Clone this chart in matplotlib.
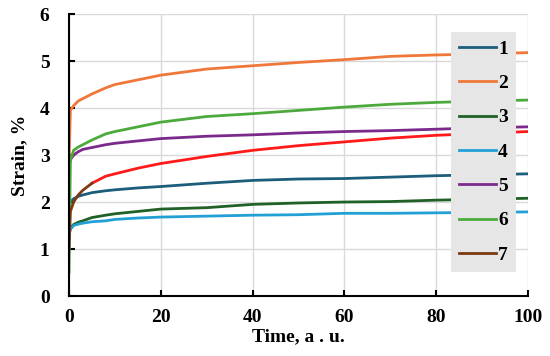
"""
Strain vs time, seven creep curves (recreation of a reference figure).
"""
import matplotlib
matplotlib.use('Agg')
import matplotlib.pyplot as plt

# ── Data ──────────────────────────────────────────────────────────────────────
t = [0, 0.3, 1, 2, 3, 5, 8, 10, 15, 20, 30, 40, 50, 60, 70, 80, 90, 100]

s1 = [1.9, 2.0, 2.07, 2.12, 2.15, 2.2, 2.24, 2.26, 2.3, 2.33, 2.4, 2.46, 2.49, 2.5, 2.53, 2.56, 2.58, 2.6]
s2 = [2.9, 3.95, 4.05, 4.15, 4.2, 4.3, 4.43, 4.5, 4.6, 4.7, 4.83, 4.9, 4.97, 5.03, 5.1, 5.13, 5.15, 5.18]
s3 = [1.3, 1.45, 1.52, 1.57, 1.6, 1.67, 1.72, 1.75, 1.8, 1.85, 1.88, 1.95, 1.98, 2.0, 2.01, 2.04, 2.06, 2.08]
s4 = [1.3, 1.42, 1.5, 1.53, 1.55, 1.58, 1.6, 1.63, 1.66, 1.68, 1.7, 1.72, 1.73, 1.76, 1.76, 1.77, 1.78, 1.79]
s5 = [2.75, 2.9, 3.0, 3.07, 3.12, 3.16, 3.22, 3.25, 3.3, 3.35, 3.4, 3.43, 3.47, 3.5, 3.52, 3.55, 3.58, 3.6]
s6 = [0.5, 2.9, 3.1, 3.17, 3.22, 3.32, 3.45, 3.5, 3.6, 3.7, 3.82, 3.88, 3.95, 4.02, 4.08, 4.12, 4.15, 4.17]
s7 = [1.0, 1.8, 2.0, 2.15, 2.25, 2.4, 2.55, 2.6, 2.72, 2.82, 2.97, 3.1, 3.2, 3.28, 3.36, 3.42, 3.46, 3.5]

series = [s1, s2, s3, s4, s5, s6]
labels = ['1', '2', '3', '4', '5', '6']
colors = ['#1c5d7c', '#f0773a', '#1f6127', '#22a0d6', '#7b2a8c', '#4caa3c']

RED = '#ff1a1a'
BROWN = '#7b3a12'
N_BROWN = 6   # early part of curve 7 drawn brown (t <= 5)

# ── Plot ──────────────────────────────────────────────────────────────────────
plt.rcParams['font.family'] = 'Liberation Serif'
plt.rcParams['font.weight'] = 'bold'

fig = plt.figure(figsize=(5.5, 3.56), dpi=100)
ax = fig.add_axes([0.1255, 0.1685, 0.8345, 0.792])

for y, lab, c in zip(series, labels, colors):
    ax.plot(t, y, color=c, lw=2, label=lab)
ax.plot(t[N_BROWN - 1:], s7[N_BROWN - 1:], color=RED, lw=2)
ax.plot(t[:N_BROWN], s7[:N_BROWN], color=BROWN, lw=2, label='7')

ax.set_xlim(0, 100)
ax.set_ylim(0, 6)
ax.set_xticks(range(0, 101, 20))
ax.set_yticks(range(0, 7))
ax.grid(True, color='#d9d9d9', lw=1)
ax.set_axisbelow(True)
for side in ('top', 'right'):
    ax.spines[side].set_visible(False)
for side in ('left', 'bottom'):
    ax.spines[side].set_linewidth(1.5)
ax.tick_params(direction='in', length=4, width=1.5, labelsize=14)
ax.tick_params(axis='y', pad=14)
ax.tick_params(axis='x', pad=9)

ax.set_xlabel('Time, a . u.', fontsize=14, fontweight='bold', labelpad=2)
ax.set_ylabel('Strain, %', fontsize=14, fontweight='bold', labelpad=8)

leg = ax.legend(loc='upper left', bbox_to_anchor=(0.832, 0.935), fontsize=14,
                frameon=True, fancybox=False, handlelength=1.9,
                labelspacing=0.86, handletextpad=0.12, borderpad=0.4,
                borderaxespad=0)
leg.get_frame().set_facecolor('#e6e6e6')
leg.get_frame().set_edgecolor('none')
leg.get_frame().set_alpha(1)

plt.savefig('out.png', dpi=100)
plt.close()
